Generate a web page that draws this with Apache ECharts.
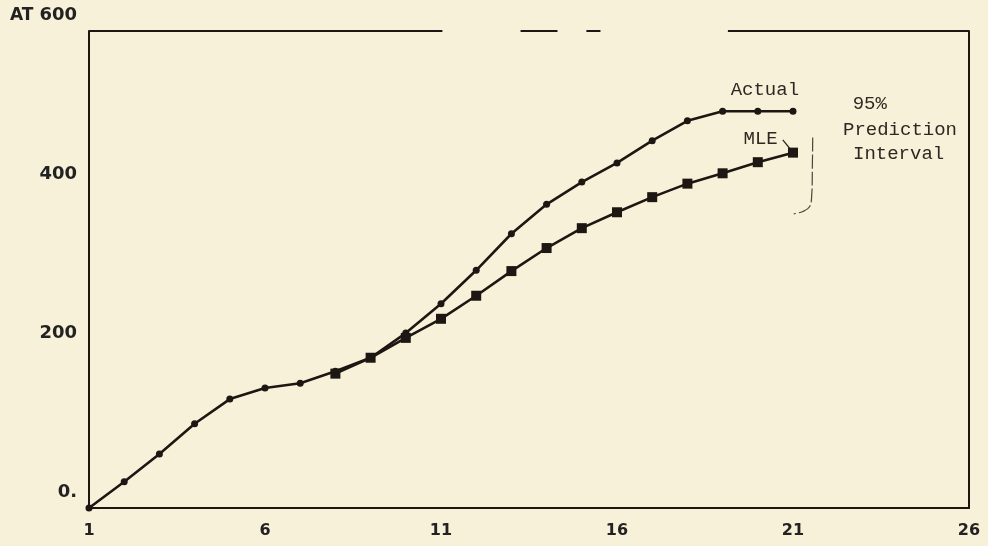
<!DOCTYPE html>
<html>
<head>
<meta charset="utf-8">
<style>
  html, body { margin: 0; padding: 0; background: #f8f1d9; }
  #chart { width: 988px; height: 546px; }
</style>
<script src="https://cdn.jsdelivr.net/npm/echarts/dist/echarts.min.js"></script>
</head>
<body>
<div id="chart"></div>
<script>
// Period index along the horizontal axis
const periods = ['1','2','3','4','5','6','7','8','9','10','11','12','13',
                 '14','15','16','17','18','19','20','21','22','23','24','25','26'];

// Observed cumulative values, periods 1..21
const actualValues = [0, 33, 68, 106, 137, 151, 157, 172, 189, 220, 257, 299,
                      345, 382, 410, 434, 462, 487, 499, 499, 499];

// Maximum-likelihood estimate, starting at period 8
const mleValues = ['-', '-', '-', '-', '-', '-', '-', 169, 189, 214, 238, 267,
                   298, 327, 352, 372, 391, 408, 421, 435, 447];

// Vertical axis tick labels
const yTickLabels = { 0: '0.', 200: '200', 400: '400', 600: '600' };

const ink = '#1c1712';
const typeFont = '19px "Liberation Mono", "DejaVu Sans Mono", monospace';

const chart = echarts.init(document.getElementById('chart'), null, { renderer: 'canvas' });

chart.setOption({
  animation: false,
  backgroundColor: '#f8f1d9',
  grid: { left: 89, right: 19, top: 31, bottom: 38, containLabel: false },
  xAxis: [{
    type: 'category',
    data: periods,
    boundaryGap: false,
    axisLine: { show: true, lineStyle: { color: ink, width: 2 } },
    axisTick: { show: false },
    splitLine: { show: false },
    axisLabel: {
      interval: 4,
      margin: 15,
      color: '#222',
      fontFamily: '"DejaVu Sans", sans-serif',
      fontWeight: 'bold',
      fontSize: 16
    }
  }, {
    // hidden helper axis for placing annotations between periods
    type: 'value', min: 1, max: 26, show: false
  }],
  yAxis: [{
    type: 'value',
    min: 0,
    max: 600,
    interval: 200,
    axisLine: { show: true, lineStyle: { color: ink, width: 2 } },
    axisTick: { show: false },
    splitLine: { show: false },
    axisLabel: {
      margin: 12,
      color: '#222',
      fontFamily: '"DejaVu Sans", sans-serif',
      fontWeight: 'bold',
      fontSize: 18,
      verticalAlign: 'bottom',
      lineHeight: 18,
      padding: [0, 0, 7, 0],
      formatter: v => yTickLabels[v] !== undefined ? yTickLabels[v] : ''
    }
  }, {
    type: 'value',
    min: 0,
    max: 600,
    position: 'right',
    axisLine: { show: true, lineStyle: { color: ink, width: 2 } },
    axisTick: { show: false },
    axisLabel: { show: false },
    splitLine: { show: false }
  }],
  series: [{
    name: 'Actual',
    type: 'line',
    data: actualValues,
    symbol: 'circle',
    symbolSize: 7,
    lineStyle: { color: ink, width: 2.6 },
    itemStyle: { color: ink },
    z: 3
  }, {
    name: 'MLE',
    type: 'line',
    data: mleValues,
    symbol: 'rect',
    symbolSize: 10,
    lineStyle: { color: ink, width: 2.6 },
    itemStyle: { color: ink },
    z: 4
  }]
});

// Annotation layer: positions expressed in axis units
const at = (x, y) => chart.convertToPixel({ xAxisIndex: 1, yAxisIndex: 0 }, [x, y]);

const topRuleSpans = [[1, 11.04], [13.26, 14.31], [15.13, 15.53], [19.15, 26]];

const graphics = [];

topRuleSpans.forEach(([a, b]) => {
  const p = at(a, 600), q = at(b, 600);
  graphics.push({
    type: 'line',
    shape: { x1: p[0], y1: p[1], x2: q[0], y2: q[1] },
    style: { stroke: ink, lineWidth: 2 }
  });
});

function label(text, x, y) {
  const p = at(x, y);
  graphics.push({
    type: 'text',
    x: p[0], y: p[1],
    style: {
      text: text, font: typeFont, fill: '#2e2822',
      align: 'center', verticalAlign: 'middle',
      textAlign: 'center', textVerticalAlign: 'middle'
    }
  });
}

label('Actual', 20.2, 526);
label('MLE', 20.08, 464);
label('95%', 23.18, 508);
label('Prediction', 24.04, 476);
label('Interval', 24.0, 445);

// leader from the MLE label to the last estimate
{
  const p = at(20.71, 463), q = at(20.95, 450);
  graphics.push({
    type: 'line',
    shape: { x1: p[0], y1: p[1], x2: q[0], y2: q[1] },
    style: { stroke: '#2e2822', lineWidth: 1.3 }
  });
}

// brace marking the prediction interval
{
  const pts = [[21.56, 466], [21.55, 430], [21.53, 392], [21.47, 379], [21.28, 373], [21.02, 370]]
    .map(([x, y]) => at(x, y));
  graphics.push({
    type: 'polyline',
    shape: { points: pts, smooth: 0.4 },
    style: { stroke: '#4a443c', lineWidth: 1.2, lineDash: [14, 3], fill: null }
  });
}

// vertical axis caption
graphics.push({
  type: 'text',
  x: 10, y: 16,
  style: {
    text: 'AT', font: 'bold 17px "DejaVu Sans", sans-serif', fill: '#222',
    align: 'left', verticalAlign: 'middle',
    textAlign: 'left', textVerticalAlign: 'middle'
  }
});

chart.setOption({ graphic: { elements: graphics } });
</script>
</body>
</html>
